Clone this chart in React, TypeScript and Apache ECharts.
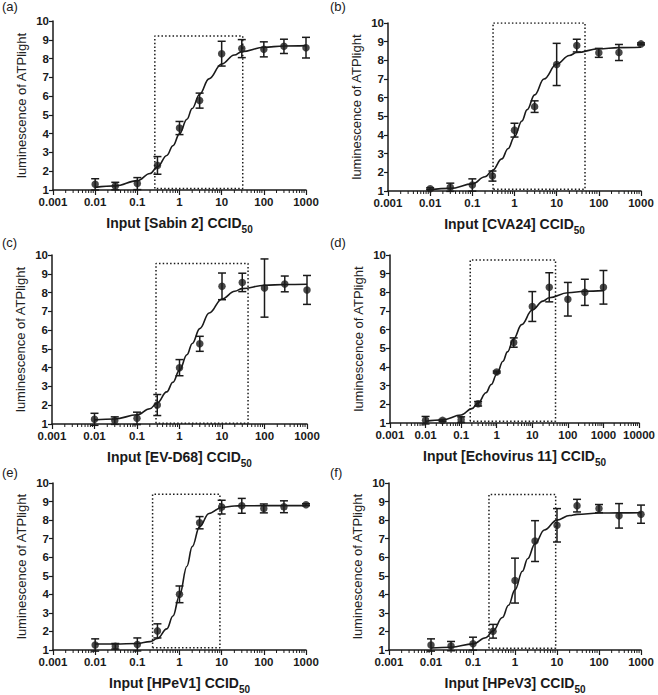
import { useEffect, useRef } from 'react'
import * as echarts from 'echarts'

const FONT = '"Liberation Sans", Arial, sans-serif'
const INK = '#1a1a1a'

const panelLabels = ['(a)', '(b)', '(c)', '(d)', '(e)', '(f)']
const virusNames = ['Sabin 2', 'CVA24', 'EV-D68', 'Echovirus 11', 'HPeV1', 'HPeV3']
const xMax = [1000, 1000, 1000, 10000, 1000, 1000]

// measured doses (CCID50)
const doses = [0.01, 0.03, 0.1, 0.3, 1, 3, 10, 30, 100, 300, 1000]

// mean luminescence and error per panel
const meanA = [1.3, 1.21, 1.34, 2.31, 4.3, 5.76, 8.26, 8.53, 8.49, 8.65, 8.58]
const errA = [0.3, 0.2, 0.32, 0.47, 0.35, 0.4, 0.66, 0.48, 0.4, 0.38, 0.55]
const meanB = [1.12, 1.2, 1.32, 1.8, 4.26, 5.52, 7.78, 8.79, 8.4, 8.42, 8.88]
const errB = [0.05, 0.22, 0.33, 0.27, 0.37, 0.31, 1.13, 0.34, 0.24, 0.43, 0.05]
const meanC = [1.25, 1.18, 1.3, 2.01, 4.0, 5.27, 8.33, 8.54, 8.24, 8.46, 8.14]
const errC = [0.32, 0.2, 0.33, 0.56, 0.43, 0.4, 0.71, 0.49, 1.55, 0.42, 0.77]
const meanD = [1.15, 1.14, 1.18, 2.03, 3.73, 5.31, 7.24, 8.27, 7.63, 8.0, 8.27]
const errD = [0.2, 0.05, 0.15, 0.12, 0.05, 0.25, 0.8, 0.78, 0.9, 0.7, 0.9]
const meanE = [1.27, 1.2, 1.3, 2.03, 4.0, 7.86, 8.7, 8.77, 8.63, 8.72, 8.83]
const errE = [0.33, 0.15, 0.35, 0.38, 0.45, 0.33, 0.37, 0.4, 0.24, 0.32, 0.05]
const meanF = [1.27, 1.21, 1.34, 2.01, 4.74, 6.87, 7.72, 8.78, 8.62, 8.23, 8.32]
const errF = [0.33, 0.25, 0.35, 0.37, 1.21, 1.1, 0.9, 0.34, 0.22, 0.66, 0.49]

// fitted curves
const curveX = [0.01, 0.03, 0.1, 0.2, 0.3, 0.5, 0.7, 1, 1.5, 2, 3, 5, 10, 20, 30, 100, 300, 1000]
const curveA = [1.14, 1.22, 1.5, 1.88, 2.23, 2.84, 3.36, 3.99, 4.77, 5.34, 6.1, 6.92, 7.71, 8.19, 8.37, 8.6, 8.67, 8.69]
const curveB = [1.08, 1.14, 1.38, 1.76, 2.1, 2.72, 3.26, 3.91, 4.75, 5.36, 6.15, 7.0, 7.8, 8.26, 8.42, 8.62, 8.68, 8.7]
const curveC = [1.22, 1.27, 1.49, 1.81, 2.12, 2.71, 3.22, 3.87, 4.69, 5.29, 6.08, 6.91, 7.66, 8.07, 8.21, 8.39, 8.43, 8.44]
const curveD = [1.09, 1.17, 1.43, 1.77, 2.08, 2.62, 3.06, 3.61, 4.31, 4.81, 5.51, 6.27, 7.05, 7.53, 7.71, 7.98, 8.06, 8.09]
const curveE = [1.32, 1.32, 1.35, 1.45, 1.62, 2.14, 2.83, 3.94, 5.51, 6.57, 7.65, 8.36, 8.68, 8.76, 8.77, 8.78, 8.78, 8.78]
const curveF = [1.11, 1.15, 1.33, 1.66, 2.03, 2.75, 3.41, 4.24, 5.24, 5.92, 6.73, 7.47, 8.0, 8.25, 8.31, 8.38, 8.39, 8.4]

// dotted boxes: [xLeft, xRight, yBottom, yTop]
const boxA = [0.26, 31.6, 1.08, 9.2]
const boxB = [0.31, 47, 1.1, 10.0]
const boxC = [0.28, 41, 1.04, 9.55]
const boxD = [0.18, 45, 1.1, 9.73]
const boxE = [0.23, 9.1, 1.12, 9.39]
const boxF = [0.24, 9.3, 1.1, 9.38]

const means = [meanA, meanB, meanC, meanD, meanE, meanF]
const errs = [errA, errB, errC, errD, errE, errF]
const curves = [curveA, curveB, curveC, curveD, curveE, curveF]
const boxes = [boxA, boxB, boxC, boxD, boxE, boxF]

// plot areas in px: left, top, width, height
const grids = [
  [53, 21, 253, 169],
  [388, 23, 253, 168],
  [52, 255, 255, 169],
  [390, 255, 255, 168],
  [53, 483, 253, 168],
  [389, 483, 252, 169],
]
const labelPos = [
  [2, 0],
  [330, 0],
  [2, 236],
  [330, 236],
  [2, 466],
  [330, 466],
]

function minorTicksFor(max: number) {
  const out: number[] = []
  for (let d = 0.001; d < max * 0.99; d *= 10) {
    for (let m = 2; m <= 9; m++) out.push(+(d * m).toPrecision(3))
  }
  return out
}

export default function App() {
  const ref = useRef<HTMLDivElement>(null)

  useEffect(() => {
    document.body.style.margin = '0'
    if (!ref.current) return
    const chart = echarts.init(ref.current, null, { renderer: 'svg' })

    const grid: any[] = []
    const xAxis: any[] = []
    const yAxis: any[] = []
    const series: any[] = []

    grids.forEach((g, i) => {
      grid.push({ left: g[0], top: g[1], width: g[2], height: g[3], containLabel: false })
      xAxis.push({
        type: 'log',
        gridIndex: i,
        min: 0.001,
        max: xMax[i],
        logBase: 10,
        name: `{t|Input [${virusNames[i]}] CCID}{s|50}`,
        nameLocation: 'middle',
        nameGap: 22,
        nameTextStyle: {
          rich: {
            t: { fontFamily: FONT, fontSize: 14, fontWeight: 'bold', color: INK, lineHeight: 18, verticalAlign: 'bottom' },
            s: { fontFamily: FONT, fontSize: 10, fontWeight: 'bold', color: INK, lineHeight: 18, verticalAlign: 'bottom', padding: [0, 0, -4, 0] },
          },
        },
        axisLine: { onZero: false, lineStyle: { color: INK, width: 1.5 } },
        axisTick: { length: 5, lineStyle: { color: INK, width: 1.2 } },
        axisLabel: {
          fontFamily: FONT,
          fontSize: 11.5,
          fontWeight: 'bold',
          color: INK,
          margin: 6,
          formatter: (v: number) => String(+v.toPrecision(3)),
        },
        splitLine: { show: false },
      })
      yAxis.push({
        type: 'value',
        gridIndex: i,
        min: 1,
        max: 10,
        interval: 1,
        name: 'luminescence of ATPlight',
        nameLocation: 'middle',
        nameGap: 25,
        nameTextStyle: { fontFamily: FONT, fontSize: 13, color: '#222' },
        axisLine: { show: true, lineStyle: { color: INK, width: 1.5 } },
        axisTick: { show: true, length: 4, lineStyle: { color: INK, width: 1.2 } },
        axisLabel: { fontFamily: FONT, fontSize: 11.5, fontWeight: 'bold', color: INK, margin: 4 },
        splitLine: { show: false },
      })

      const b = boxes[i]
      series.push({
        type: 'line',
        xAxisIndex: i,
        yAxisIndex: i,
        data: [
          [b[0], b[2]],
          [b[0], b[3]],
          [b[1], b[3]],
          [b[1], b[2]],
          [b[0], b[2]],
        ],
        symbol: 'none',
        silent: true,
        lineStyle: { color: INK, width: 1.5, type: [1.5, 2.2] },
        z: 2,
      })
      series.push({
        type: 'custom',
        xAxisIndex: i,
        yAxisIndex: i,
        data: minorTicksFor(xMax[i]).map((v) => [v, 1]),
        clip: false,
        silent: true,
        renderItem: (_p: any, api: any) => {
          const p = api.coord([api.value(0), 1])
          return {
            type: 'line',
            shape: { x1: p[0], y1: p[1], x2: p[0], y2: p[1] + 3 },
            style: { stroke: INK, lineWidth: 1 },
          }
        },
        z: 1,
      })
      series.push({
        type: 'line',
        xAxisIndex: i,
        yAxisIndex: i,
        data: curveX.map((x, k) => [x, curves[i][k]]),
        symbol: 'none',
        smooth: 0.4,
        smoothMonotone: 'x',
        silent: true,
        clip: false,
        lineStyle: { color: INK, width: 1.6 },
        z: 3,
      })
      series.push({
        type: 'custom',
        xAxisIndex: i,
        yAxisIndex: i,
        data: doses.map((x, k) => [x, means[i][k] - errs[i][k], means[i][k] + errs[i][k]]),
        clip: false,
        silent: true,
        renderItem: (_p: any, api: any) => {
          const top = api.coord([api.value(0), api.value(2)])
          const bot = api.coord([api.value(0), api.value(1)])
          const w = 4
          const style = { stroke: INK, lineWidth: 1.5 }
          return {
            type: 'group',
            children: [
              { type: 'line', shape: { x1: top[0], y1: top[1], x2: bot[0], y2: bot[1] }, style },
              { type: 'line', shape: { x1: top[0] - w, y1: top[1], x2: top[0] + w, y2: top[1] }, style },
              { type: 'line', shape: { x1: bot[0] - w, y1: bot[1], x2: bot[0] + w, y2: bot[1] }, style },
            ],
          }
        },
        z: 4,
      })
      series.push({
        type: 'scatter',
        xAxisIndex: i,
        yAxisIndex: i,
        data: doses.map((x, k) => [x, means[i][k]]),
        symbol: 'circle',
        symbolSize: 7.5,
        clip: false,
        silent: true,
        itemStyle: { color: INK },
        z: 5,
      })
    })

    chart.setOption({
      animation: false,
      textStyle: { fontFamily: FONT },
      grid,
      xAxis,
      yAxis,
      series,
      graphic: panelLabels.map((t, i) => ({
        type: 'text',
        left: labelPos[i][0],
        top: labelPos[i][1],
        style: { text: t, fontFamily: FONT, fontSize: 13, fill: INK },
      })),
    })

    return () => chart.dispose()
  }, [])

  return <div ref={ref} style={{ width: 658, height: 695 }} />
}
